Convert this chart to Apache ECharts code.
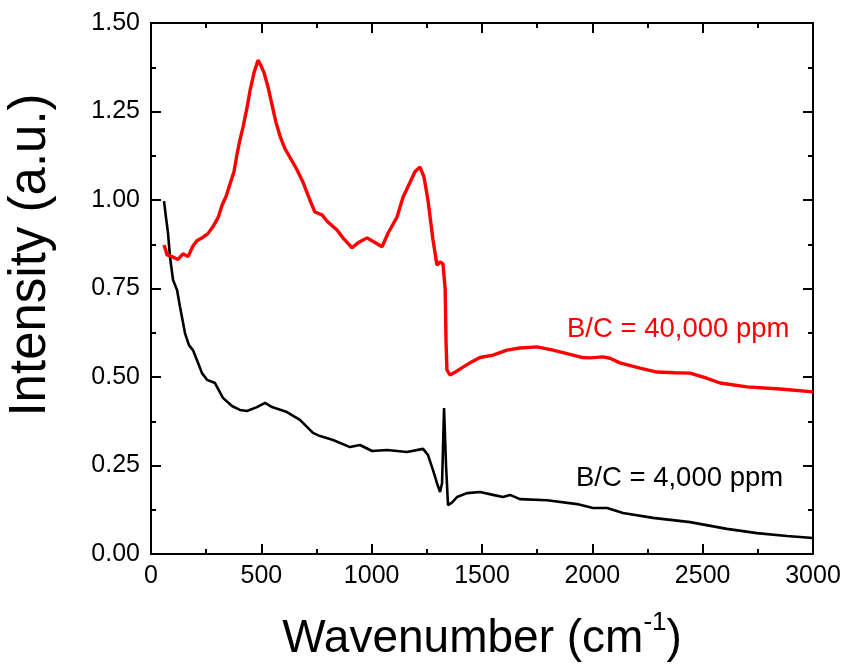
<!DOCTYPE html>
<html>
<head>
<meta charset="utf-8">
<script src="https://cdn.jsdelivr.net/npm/echarts@6/dist/echarts.min.js"></script>
<style>html,body{margin:0;padding:0;background:#fff}#c{width:853px;height:670px}</style>
</head>
<body>
<div id="c"></div>
<script>
// Red curve: B/C = 40,000 ppm
const redX = [59,73,95,122,145,168,190,208,236,258,281,304,322,340,358,376,390,403,417,435,449,467,485,498,512,530,548,566,585,607,630,662,689,720,743,775,798,843,870,911,938,979,1015,1047,1074,1115,1142,1174,1196,1219,1237,1255,1278,1296,1310,1323,1333,1337,1341,1355,1382,1414,1446,1491,1550,1613,1672,1749,1822,1912,1957,1990,2048,2080,2125,2216,2293,2375,2443,2511,2579,2701,2851,3000];
const redY = [0.873,0.845,0.84,0.832,0.848,0.84,0.87,0.885,0.895,0.905,0.925,0.95,0.985,1.01,1.045,1.08,1.13,1.17,1.206,1.26,1.31,1.36,1.395,1.38,1.36,1.32,1.27,1.22,1.18,1.145,1.12,1.085,1.05,1.0,0.966,0.958,0.94,0.915,0.893,0.865,0.879,0.893,0.88,0.868,0.906,0.952,1.008,1.05,1.08,1.093,1.065,1.0,0.887,0.816,0.825,0.82,0.75,0.6,0.52,0.506,0.515,0.528,0.54,0.555,0.562,0.576,0.582,0.585,0.576,0.562,0.555,0.554,0.557,0.553,0.54,0.525,0.514,0.512,0.511,0.498,0.483,0.472,0.466,0.458];
// Black curve: B/C = 4,000 ppm
const blackX = [59,68,77,86,100,118,131,140,154,172,190,213,231,254,290,326,367,403,435,480,517,548,616,675,734,766,825,902,947,1002,1070,1160,1233,1255,1278,1296,1310,1319,1328,1337,1346,1364,1387,1432,1491,1550,1595,1627,1672,1795,1931,2003,2067,2139,2275,2443,2610,2746,2882,3000];
const blackY = [0.997,0.95,0.907,0.839,0.774,0.746,0.70,0.67,0.624,0.59,0.576,0.54,0.511,0.492,0.483,0.441,0.418,0.407,0.404,0.415,0.427,0.415,0.401,0.379,0.342,0.333,0.322,0.302,0.308,0.291,0.294,0.288,0.297,0.28,0.237,0.2,0.175,0.2,0.412,0.25,0.138,0.145,0.161,0.172,0.175,0.167,0.161,0.167,0.155,0.152,0.141,0.13,0.13,0.116,0.102,0.09,0.071,0.059,0.051,0.045];
const xTicks = [0, 500, 1000, 1500, 2000, 2500, 3000];
const yTicks = [0, 0.25, 0.5, 0.75, 1.0, 1.25, 1.5];
const labelRed = 'B/C = 40,000 ppm';
const labelBlack = 'B/C = 4,000 ppm';
const xTitle = 'Wavenumber (cm';
const yTitle = 'Intensity (a.u.)';

const FONT = 'Liberation Sans, Arial, sans-serif';
function tickStyle() { return {show: true, inside: true, length: 10, lineStyle: {color: '#000', width: 2}}; }
function minorStyle() { return {show: true, splitNumber: 2, length: 5, lineStyle: {color: '#000', width: 2}}; }
function lineStyle() { return {show: true, onZero: false, lineStyle: {color: '#000', width: 2}}; }

function xAxisBase(pos, labels) {
  return {
    type: 'value', position: pos, min: xTicks[0], max: xTicks[xTicks.length - 1],
    interval: xTicks[1] - xTicks[0],
    axisLine: lineStyle(), axisTick: tickStyle(), minorTick: minorStyle(),
    splitLine: {show: false},
    axisLabel: {show: labels, color: '#000', fontSize: 25, fontFamily: FONT, margin: 10,
      formatter: v => String(v)}
  };
}
function yAxisBase(pos, labels) {
  return {
    type: 'value', position: pos, min: yTicks[0], max: yTicks[yTicks.length - 1],
    interval: yTicks[1] - yTicks[0],
    axisLine: lineStyle(), axisTick: tickStyle(), minorTick: minorStyle(),
    splitLine: {show: false},
    axisLabel: {show: labels, color: '#000', fontSize: 25, fontFamily: FONT, margin: 11,
      formatter: v => v.toFixed(2)}
  };
}

const chart = echarts.init(document.getElementById('c'), null, {renderer: 'canvas'});
const xa = xAxisBase('bottom', true);
xa.name = '{a|' + xTitle + '}{s|-1}{a|)}';
xa.nameLocation = 'middle';
xa.nameGap = 56;
xa.nameTextStyle = {rich: {
  a: {fontSize: 46, fontFamily: FONT, color: '#000', lineHeight: 52, verticalAlign: 'bottom'},
  s: {fontSize: 26, fontFamily: FONT, color: '#000', lineHeight: 52, verticalAlign: 'top'}
}};

chart.setOption({
  animation: false,
  backgroundColor: '#fff',
  grid: {left: 151, right: 40, top: 23, bottom: 116, containLabel: false},
  xAxis: [xa, xAxisBase('top', false)],
  yAxis: [yAxisBase('left', true), yAxisBase('right', false)],
  series: [
    {type: 'line', name: labelBlack, xAxisIndex: 0, yAxisIndex: 0, showSymbol: false,
      data: blackX.map((x, i) => [x, blackY[i]]),
      lineStyle: {color: '#000', width: 2.6}, z: 2},
    {type: 'line', name: labelRed, xAxisIndex: 0, yAxisIndex: 0, showSymbol: false,
      data: redX.map((x, i) => [x, redY[i]]),
      lineStyle: {color: '#ff0000', width: 3.4}, z: 3}
  ],
  graphic: [
    {type: 'text', x: 31, y: 255, rotation: Math.PI / 2,
      style: {text: yTitle, fill: '#000', font: '51px ' + FONT, textAlign: 'center', textVerticalAlign: 'middle'}},
    {type: 'text', left: 567, top: 315, style: {text: labelRed, fill: '#ff0000', font: '27.5px ' + FONT}},
    {type: 'text', left: 576, top: 464, style: {text: labelBlack, fill: '#000', font: '27.5px ' + FONT}}
  ]
});
</script>
</body>
</html>
